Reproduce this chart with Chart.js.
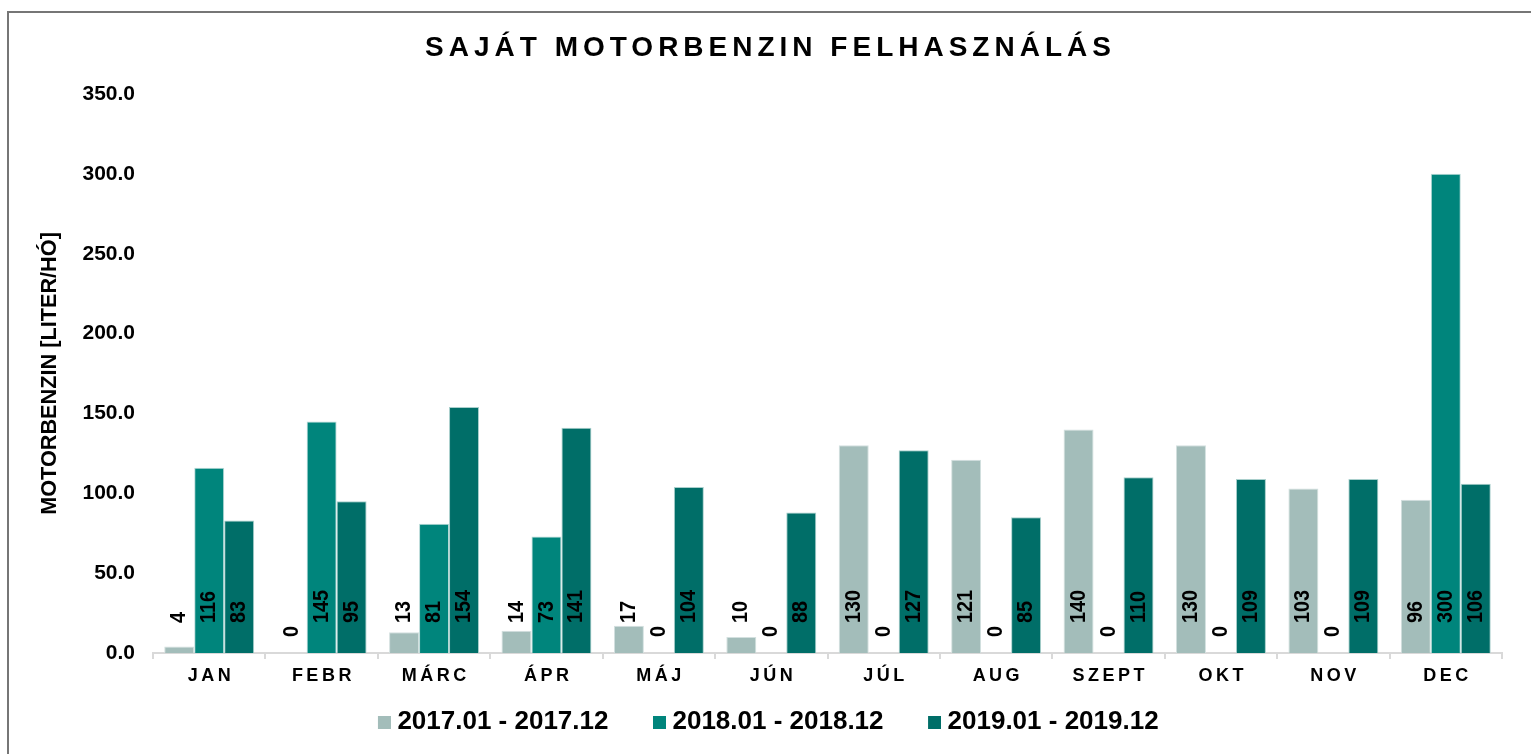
<!DOCTYPE html>
<html><head><meta charset="utf-8">
<script src="https://cdn.jsdelivr.net/npm/chart.js@4.4.0/dist/chart.umd.min.js"></script>
<style>
html,body{margin:0;padding:0;background:#fff;overflow:hidden}
#wrap{position:relative;width:1531px;height:754px}
#frame{position:absolute;left:7px;top:11px;width:1600px;height:800px;border:2px solid #767676;pointer-events:none}
canvas{display:block}
</style></head><body>
<div id="wrap"><canvas id="c" width="1531" height="754"></canvas><div id="frame"></div></div>
<script>
const categories = ['JAN','FEBR','MÁRC','ÁPR','MÁJ','JÚN','JÚL','AUG','SZEPT','OKT','NOV','DEC'];
const seriesNames = ['2017.01 - 2017.12','2018.01 - 2018.12','2019.01 - 2019.12'];
const values2017 = [4,0,13,14,17,10,130,121,140,130,103,96];
const values2018 = [116,145,81,73,0,0,0,0,0,0,0,300];
const values2019 = [83,95,154,141,104,88,127,85,110,109,109,106];
const yTicks = [0,50,100,150,200,250,300,350];
const chartTitle = 'SAJÁT MOTORBENZIN FELHASZNÁLÁS';
const yTitle = 'MOTORBENZIN [LITER/HÓ]';

const FAMILY = "'Liberation Sans', Arial, sans-serif";
const colors = ['#A3BDBA','#00857C','#006E68'];
const borders = ['#D3E0DF','#B9DAD7','#A9CFCC'];

function swatch(color){
  const c = document.createElement('canvas');
  c.width = 54; c.height = 13;
  const g = c.getContext('2d');
  g.fillStyle = color; g.fillRect(41,0,13,13);
  return c;
}

const spacingPlugin = {
  id: 'spacing',
  afterLayout(chart) {
    const t = chart.titleBlock;
    if (t && !t._ls) {
      const d = t.draw;
      t.draw = function(a){ const c=this.ctx; c.save(); c.letterSpacing='5px'; c.translate(2.5,0); d.call(this,a); c.restore(); };
      t._ls = true;
    }
    const x = chart.scales.x;
    if (x && !x._ls) {
      const d = x.drawLabels;
      x.drawLabels = function(a){ const c=this.ctx; c.save(); c.letterSpacing='3.5px'; c.translate(1.75,0); d.call(this,a); c.restore(); };
      x._ls = true;
    }
    if (chart.legend) { chart.legend.left -= 17; chart.legend.right -= 17; }
  }
};

const valueLabels = {
  id: 'valueLabels',
  afterDatasetsDraw(chart) {
    const ctx = chart.ctx;
    ctx.save();
    ctx.font = 'bold 22px ' + FAMILY;
    ctx.fillStyle = '#000';
    ctx.textAlign = 'left';
    ctx.textBaseline = 'middle';
    chart.data.datasets.forEach((ds, di) => {
      const meta = chart.getDatasetMeta(di);
      meta.data.forEach((bar, i) => {
        const v = ds.data[i];
        const y0 = bar.base - (v === 0 ? 16 : 30);
        ctx.save();
        ctx.translate(bar.x, y0);
        ctx.rotate(-Math.PI/2);
        ctx.scale(0.9, 1);
        ctx.fillText(String(v), 0, 0);
        ctx.restore();
      });
    });
    ctx.restore();
  }
};

const allValues = [values2017, values2018, values2019];

new Chart(document.getElementById('c'), {
  type: 'bar',
  data: {
    labels: categories,
    datasets: allValues.map((vals, i) => ({
      label: seriesNames[i],
      data: vals,
      backgroundColor: colors[i],
      borderColor: borders[i],
      borderWidth: 1,
      categoryPercentage: 0.8,
      barPercentage: 1.0
    }))
  },
  options: {
    responsive: false,
    animation: false,
    devicePixelRatio: 1,
    layout: { padding: { top: 0, left: 34, right: 29, bottom: 9 } },
    plugins: {
      title: {
        display: true,
        text: chartTitle,
        color: '#000',
        font: { family: FAMILY, size: 28, weight: 'bold', lineHeight: 1.2 },
        padding: { top: 31.5, bottom: 28.9 }
      },
      legend: {
        position: 'bottom',
        labels: {
          usePointStyle: true,
          pointStyleWidth: 41,
          boxHeight: 13,
          padding: 10,
          color: '#000',
          font: { family: FAMILY, size: 26, weight: 'bold' },
          generateLabels(chart) {
            return chart.data.datasets.map((ds, i) => ({
              text: ds.label,
              fillStyle: ds.backgroundColor,
              strokeStyle: ds.backgroundColor,
              lineWidth: 0,
              pointStyle: swatch(ds.backgroundColor),
              hidden: false,
              datasetIndex: i,
              fontColor: '#000'
            }));
          }
        }
      },
      tooltip: { enabled: false }
    },
    scales: {
      x: {
        grid: { display: true, drawOnChartArea: false, drawTicks: true, tickLength: 6, color: '#D9D9D9', lineWidth: 2 },
        border: { display: true, color: '#D9D9D9', width: 2 },
        ticks: { color: '#000', padding: 6, font: { family: FAMILY, size: 18, weight: 'bold' }, maxRotation: 0 },
        afterFit(s) { s.height = 46; }
      },
      y: {
        min: 0, max: 350,
        afterBuildTicks(s) { s.ticks = yTicks.map(v => ({ value: v })); },
        grid: { display: false, drawTicks: false },
        border: { display: false },
        ticks: { color: '#000', padding: 18, font: { family: FAMILY, size: 21, weight: 'bold' }, callback: v => Number(v).toFixed(1) },
        title: { display: true, text: yTitle, color: '#000', padding: { top: 3, bottom: 0 }, font: { family: FAMILY, size: 21.7, weight: 'bold', lineHeight: 1.2 } },
        afterFit(s) { s.width = 119; }
      }
    }
  },
  plugins: [spacingPlugin, valueLabels]
});
</script>
</body></html>
